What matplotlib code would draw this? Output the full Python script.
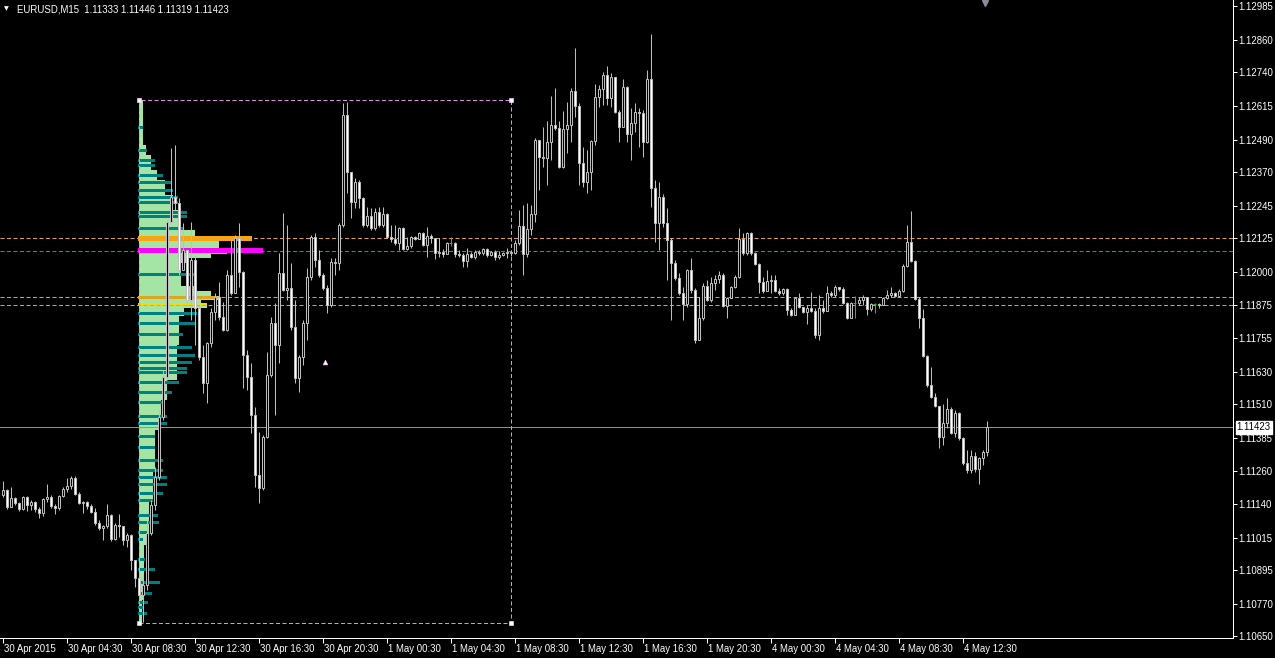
import matplotlib
matplotlib.use("Agg")
import matplotlib.pyplot as plt
import matplotlib.transforms as mtransforms
from matplotlib.patches import Rectangle

# ---------------- data ----------------
symbol = "EURUSD,M15"
header_values = ["1.11333", "1.11446", "1.11319", "1.11423"]
first_open = 1.11173

closes = [
    1.11191, 1.11128, 1.11161, 1.11143, 1.11121, 1.11165, 1.11135, 1.11147, 1.11121, 1.11106,
    1.11158, 1.11165, 1.11132, 1.11124, 1.11169, 1.11195, 1.11206, 1.11236, 1.11176, 1.11143,
    1.11147, 1.11132, 1.11110, 1.11069, 1.11050, 1.11058, 1.11098, 1.11010, 1.11061, 1.11058,
    1.11006, 1.11024, 1.10932, 1.10865, 1.10802, 1.10839, 1.11032, 1.11135, 1.11239, 1.11462,
    1.11610, 1.12184, 1.12277, 1.12255, 1.12006, 1.12081, 1.11895, 1.12044, 1.11866, 1.11684,
    1.11588, 1.11736, 1.11851, 1.11906, 1.11832, 1.11784, 1.11988, 1.11921, 1.12125, 1.11999,
    1.11691, 1.11610, 1.11469, 1.11247, 1.11199, 1.11388, 1.11617, 1.11810, 1.11728, 1.11995,
    1.11932, 1.11940, 1.11795, 1.11606, 1.11684, 1.11810, 1.11980, 1.12129, 1.12044, 1.11988,
    1.11940, 1.11877, 1.12036, 1.12032, 1.12173, 1.12581, 1.12370, 1.12258, 1.12333, 1.12273,
    1.12173, 1.12207, 1.12162, 1.12221, 1.12173, 1.12214, 1.12129, 1.12121, 1.12107, 1.12162,
    1.12084, 1.12095, 1.12129, 1.12121, 1.12143, 1.12099, 1.12132, 1.12125, 1.12069, 1.12073,
    1.12066, 1.12107, 1.12107, 1.12066, 1.12062, 1.12040, 1.12066, 1.12055, 1.12073, 1.12069,
    1.12084, 1.12062, 1.12073, 1.12055, 1.12062, 1.12069, 1.12073, 1.12069, 1.12107, 1.12170,
    1.12066, 1.12158, 1.12214, 1.12488, 1.12425, 1.12422, 1.12481, 1.12544, 1.12533, 1.12388,
    1.12529, 1.12544, 1.12670, 1.12614, 1.12403, 1.12333, 1.12370, 1.12485, 1.12648, 1.12677,
    1.12729, 1.12644, 1.12722, 1.12592, 1.12536, 1.12685, 1.12510, 1.12551, 1.12592, 1.12588,
    1.12481, 1.12714, 1.12310, 1.12181, 1.12277, 1.12181, 1.12118, 1.12032, 1.11977, 1.11921,
    1.11880, 1.12006, 1.11932, 1.11747, 1.11829, 1.11947, 1.11895, 1.11958, 1.11973, 1.11988,
    1.11873, 1.11903, 1.11943, 1.11980, 1.12121, 1.12069, 1.12143, 1.12069, 1.12029, 1.11962,
    1.11929, 1.11966, 1.11969, 1.11929, 1.11921, 1.11936, 1.11858, 1.11840, 1.11903, 1.11869,
    1.11851, 1.11866, 1.11855, 1.11766, 1.11866, 1.11855, 1.11921, 1.11914, 1.11943, 1.11936,
    1.11884, 1.11829, 1.11884, 1.11884, 1.11895, 1.11906, 1.11862, 1.11880, 1.11880, 1.11877,
    1.11903, 1.11914, 1.11921, 1.11910, 1.11929, 1.12021, 1.12110, 1.12040, 1.11899, 1.11829,
    1.11688, 1.11580, 1.11536, 1.11502, 1.11388, 1.11439, 1.11491, 1.11402, 1.11476, 1.11384,
    1.11291, 1.11265, 1.11317, 1.11269, 1.11310, 1.11333, 1.11423,
]
highs = [
    1.11224, 1.11195, 1.11202, 1.11165, 1.11147, 1.11169, 1.11169, 1.11154, 1.11150, 1.11128,
    1.11161, 1.11213, 1.11173, 1.11139, 1.11173, 1.11202, 1.11236, 1.11243, 1.11243, 1.11184,
    1.11150, 1.11150, 1.11139, 1.11124, 1.11080, 1.11061, 1.11139, 1.11102, 1.11069, 1.11102,
    1.11058, 1.11032, 1.11028, 1.10928, 1.10943, 1.10876, 1.11080, 1.11154, 1.11276, 1.11488,
    1.11636, 1.12192, 1.12459, 1.12470, 1.12273, 1.12181, 1.12081, 1.12184, 1.12062, 1.11877,
    1.11728, 1.11740, 1.11866, 1.11921, 1.11962, 1.11888, 1.12006, 1.12118, 1.12136, 1.12181,
    1.12003, 1.11710, 1.11662, 1.11499, 1.11406, 1.11395, 1.11703, 1.11832, 1.11884, 1.12069,
    1.12218, 1.12173, 1.12032, 1.11895, 1.11691, 1.11821, 1.12014, 1.12136, 1.12143, 1.12081,
    1.11995, 1.11951, 1.12051, 1.12051, 1.12181, 1.12625, 1.12629, 1.12370, 1.12347, 1.12340,
    1.12277, 1.12240, 1.12236, 1.12236, 1.12240, 1.12240, 1.12218, 1.12173, 1.12173, 1.12166,
    1.12166, 1.12129, 1.12132, 1.12132, 1.12147, 1.12147, 1.12166, 1.12140, 1.12125, 1.12125,
    1.12084, 1.12110, 1.12129, 1.12110, 1.12081, 1.12069, 1.12088, 1.12073, 1.12081, 1.12081,
    1.12088, 1.12088, 1.12077, 1.12081, 1.12077, 1.12073, 1.12088, 1.12081, 1.12118, 1.12229,
    1.12247, 1.12255, 1.12247, 1.12496, 1.12477, 1.12536, 1.12559, 1.12651, 1.12681, 1.12559,
    1.12596, 1.12629, 1.12681, 1.12829, 1.12625, 1.12462, 1.12451, 1.12488, 1.12696, 1.12692,
    1.12740, 1.12762, 1.12737, 1.12722, 1.12599, 1.12714, 1.12688, 1.12607, 1.12625, 1.12607,
    1.12599, 1.12748, 1.12881, 1.12340, 1.12333, 1.12288, 1.12236, 1.12125, 1.12044, 1.11995,
    1.11943, 1.12010, 1.12051, 1.11940, 1.11906, 1.11958, 1.11969, 1.11980, 1.11988, 1.12003,
    1.11995, 1.11906, 1.11947, 1.11988, 1.12162, 1.12143, 1.12147, 1.12147, 1.12073, 1.12032,
    1.11980, 1.12006, 1.11988, 1.11988, 1.11940, 1.11940, 1.11940, 1.11866, 1.11906, 1.11921,
    1.11869, 1.11877, 1.11925, 1.11866, 1.11914, 1.11895, 1.11947, 1.11929, 1.11951, 1.11940,
    1.11943, 1.11888, 1.11888, 1.11910, 1.11906, 1.11914, 1.11895, 1.11884, 1.11884, 1.11884,
    1.11906, 1.11932, 1.11943, 1.11925, 1.11936, 1.12029, 1.12173, 1.12225, 1.12044, 1.11906,
    1.11862, 1.11691, 1.11647, 1.11551, 1.11499, 1.11510, 1.11532, 1.11499, 1.11488, 1.11480,
    1.11388, 1.11339, 1.11339, 1.11332, 1.11313, 1.11339, 1.11446,
]
lows = [
    1.11165, 1.11121, 1.11128, 1.11135, 1.11113, 1.11117, 1.11113, 1.11117, 1.11110, 1.11087,
    1.11095, 1.11147, 1.11124, 1.11102, 1.11117, 1.11165, 1.11184, 1.11195, 1.11173, 1.11139,
    1.11106, 1.11121, 1.11106, 1.11061, 1.11043, 1.11006, 1.11050, 1.11002, 1.11006, 1.11017,
    1.10987, 1.10980, 1.10895, 1.10832, 1.10791, 1.10702, 1.10820, 1.11024, 1.11117, 1.11228,
    1.11451, 1.11599, 1.12184, 1.12229, 1.11988, 1.12032, 1.11869, 1.11821, 1.11728, 1.11673,
    1.11551, 1.11514, 1.11721, 1.11821, 1.11821, 1.11780, 1.11780, 1.11914, 1.11921, 1.11943,
    1.11569, 1.11562, 1.11402, 1.11202, 1.11143, 1.11191, 1.11384, 1.11610, 1.11469, 1.11662,
    1.11928, 1.11895, 1.11784, 1.11588, 1.11554, 1.11654, 1.11747, 1.11969, 1.12017, 1.11980,
    1.11932, 1.11847, 1.11869, 1.11988, 1.12006, 1.12166, 1.12292, 1.12199, 1.12236, 1.12236,
    1.12166, 1.12166, 1.12155, 1.12155, 1.12166, 1.12166, 1.12125, 1.12110, 1.12099, 1.12081,
    1.12081, 1.12081, 1.12088, 1.12118, 1.12121, 1.12095, 1.12055, 1.12107, 1.12047, 1.12055,
    1.12055, 1.12066, 1.12095, 1.12055, 1.12055, 1.12017, 1.12017, 1.12051, 1.12047, 1.12062,
    1.12062, 1.12055, 1.12058, 1.12044, 1.12047, 1.12058, 1.12051, 1.12058, 1.12066, 1.12099,
    1.11988, 1.12055, 1.12136, 1.12184, 1.12303, 1.12388, 1.12321, 1.12414, 1.12525, 1.12384,
    1.12384, 1.12440, 1.12481, 1.12573, 1.12321, 1.12314, 1.12292, 1.12303, 1.12470, 1.12611,
    1.12618, 1.12618, 1.12611, 1.12588, 1.12481, 1.12536, 1.12481, 1.12414, 1.12518, 1.12462,
    1.12425, 1.12477, 1.12240, 1.12110, 1.12081, 1.12166, 1.11969, 1.11821, 1.11969, 1.11914,
    1.11821, 1.11869, 1.11921, 1.11736, 1.11747, 1.11821, 1.11892, 1.11888, 1.11932, 1.11958,
    1.11869, 1.11829, 1.11903, 1.11940, 1.11977, 1.12062, 1.12062, 1.12062, 1.12025, 1.11921,
    1.11921, 1.11958, 1.11921, 1.11925, 1.11914, 1.11914, 1.11840, 1.11836, 1.11840, 1.11865,
    1.11847, 1.11806, 1.11851, 1.11754, 1.11747, 1.11847, 1.11855, 1.11906, 1.11906, 1.11929,
    1.11880, 1.11825, 1.11829, 1.11829, 1.11877, 1.11877, 1.11840, 1.11855, 1.11847, 1.11866,
    1.11877, 1.11899, 1.11906, 1.11906, 1.11906, 1.11925, 1.12017, 1.12036, 1.11895, 1.11791,
    1.11684, 1.11573, 1.11532, 1.11499, 1.11347, 1.11358, 1.11421, 1.11399, 1.11388, 1.11376,
    1.11284, 1.11254, 1.11254, 1.11258, 1.11213, 1.11284, 1.11319,
]

time_labels = ["30 Apr 2015", "30 Apr 04:30", "30 Apr 08:30", "30 Apr 12:30", "30 Apr 16:30",
               "30 Apr 20:30", "1 May 00:30", "1 May 04:30", "1 May 08:30", "1 May 12:30",
               "1 May 16:30", "1 May 20:30", "4 May 00:30", "4 May 04:30", "4 May 08:30",
               "4 May 12:30"]
bars_per_label = 16
price_labels = ["1.12985", "1.12860", "1.12740", "1.12615", "1.12490", "1.12370", "1.12245",
                "1.12125", "1.12000", "1.11875", "1.11755", "1.11630", "1.11510", "1.11385",
                "1.11260", "1.11140", "1.11015", "1.10895", "1.10770", "1.10650"]

# market profile (volume counts in bar units)
profile_top = [1.12636, 1.12470, 1.12433, 1.12377, 1.12340, 1.12285, 1.12229, 1.12155, 1.12133,
               1.12114, 1.12088, 1.12066, 1.12051, 1.12032, 1.11947, 1.11929, 1.11910, 1.11895,
               1.11880, 1.11866, 1.11836, 1.11728, 1.11599, 1.11525, 1.11414, 1.11265, 1.11154,
               1.10987, 1.10783]
profile_bottom = [1.12470, 1.12433, 1.12377, 1.12340, 1.12285, 1.12229, 1.12155, 1.12133, 1.12114,
                  1.12088, 1.12066, 1.12051, 1.12032, 1.11947, 1.11929, 1.11910, 1.11895, 1.11880,
                  1.11866, 1.11836, 1.11728, 1.11599, 1.11525, 1.11414, 1.11265, 1.11154, 1.10987,
                  1.10783, 1.10698]
profile_counts = [1, 1.75, 3, 4.5, 6.5, 8.5, 10, 14, 17.5, 20, 22, 18, 12.5, 10.5, 13.75, 18, 20,
                  15.5, 17, 11.25, 10, 9.5, 7, 5.5, 4, 3.5, 2.5, 1.25, 0.75]

teal_levels = [1.12536, 1.12451, 1.12414, 1.12392, 1.12355, 1.12329, 1.12303, 1.12277, 1.12258,
               1.12221, 1.12203, 1.12162, 1.11988, 1.11847, 1.11810, 1.11766, 1.11721, 1.11691,
               1.11662, 1.11640, 1.11625, 1.11588, 1.11554, 1.11514, 1.11465, 1.11439, 1.11391,
               1.11350, 1.11302, 1.11265, 1.11236, 1.11213, 1.11180, 1.11154, 1.11098, 1.11069,
               1.11035, 1.11006, 1.10932, 1.10895, 1.10850, 1.10809, 1.10776, 1.10754, 1.10735]
teal_counts = [1, 2, 4, 4, 6, 8.25, 8.5, 9.75, 9.75, 12, 12, 11, 14, 14.5, 14, 11, 13.25, 14,
               13.25, 12, 12, 10, 8.25, 5.75, 7, 7, 4, 4, 6, 6, 7, 7, 6, 3.5, 4.75, 5, 2, 1,
               1.5, 4, 5.25, 3.25, 2.25, 1, 2]

key_levels = [1.12125, 1.12077, 1.11906, 1.11877]
key_counts = [28.25, 31, 19.5, 17]
key_colors = ["#ffa500", "#ff00ff", "#daa520", "#ffd700"]
key_line_colors = ["#e0a050", "#c040c0", "#e0a050", "#e0a050"]
key_thick = [True, True, False, False]

box_start_bar, box_end_bar = 34, 127
box_high, box_low = 1.12636, 1.10698
marker_bar, marker_price = 80.6, 1.11665

# ---------------- figure ----------------
W, H = 1275, 658
fig = plt.figure(figsize=(W / 100, H / 100), dpi=100, facecolor="black")
ax_w, ax_h = 1232.5, 637.5
ax = fig.add_axes([0, (H - ax_h) / H, ax_w / W, ax_h / H], facecolor="black")
px = 0.72  # one pixel in points

n = len(closes)
xs = list(range(n))
opens = [first_open] + closes[:-1]

ax.set_xlim(-0.625, 307.5)
ax.set_ylim(1.106445, 1.130072)
ppx = (1.130072 - 1.106445) / ax_h  # price per pixel

# profile
pl = box_start_bar + 0.15
for t, b, c in zip(profile_top, profile_bottom, profile_counts):
    ax.add_patch(Rectangle((pl, b), c, t - b, facecolor="#a4e4a4", edgecolor="none", zorder=2))
for lv, c in zip(teal_levels, teal_counts):
    ax.add_patch(Rectangle((pl - 0.3, lv - 1.5 * ppx), c + 0.3, 3 * ppx,
                           facecolor="#008080", edgecolor="none", zorder=2.5))
for lv, c, col, thick in zip(key_levels, key_counts, key_colors, key_thick):
    hh = (5 if thick else 3) * ppx
    ax.add_patch(Rectangle((pl - 0.3, lv - hh / 2), c + 0.3, hh, facecolor=col,
                           edgecolor="none", zorder=3))

# key dashed lines
for lv, col in zip(key_levels, key_line_colors):
    ax.axhline(lv, color=col, lw=px, dashes=(4, 2.5), zorder=3.5)

# box
ax.add_patch(Rectangle((box_start_bar, box_low), box_end_bar - box_start_bar, box_high - box_low,
                       fill=False, edgecolor="#e090e0", lw=px, linestyle=(0, (4, 2.5)), zorder=3.6))
ax.plot([box_start_bar, box_end_bar, box_start_bar, box_end_bar],
        [box_high, box_high, box_low, box_low], ls="none", marker="s", ms=3,
        mfc="white", mec="#ffc0ff", mew=0.5, zorder=7)

# current price line
ax.axhline(closes[-1], color="#9090a4", lw=px, zorder=3.4)

# candles
wick_col = "#bebebe"
for i in xs:
    o, c = opens[i], closes[i]
    h = max(highs[i], o, c)
    l = min(lows[i], o, c)
    if abs(c - o) < 1e-7:
        ax.vlines(i, l, h, color="#00e000", lw=px, zorder=5)
        ax.hlines(c, i - 0.3, i + 0.3, color="#00e000", lw=px, zorder=5)
        continue
    ax.vlines(i, l, h, color=wick_col, lw=px, zorder=5)
    face = "white" if c < o else "black"
    ax.add_patch(Rectangle((i - 0.25, min(o, c)), 0.5, abs(c - o), facecolor=face,
                           edgecolor=wick_col, lw=px, zorder=6))

ax.plot([marker_bar], [marker_price], marker="^", ms=3.5, color="white", mec="#ffb0ff",
        mew=0.4, zorder=7)

# axes styling
for s in ["left", "top"]:
    ax.spines[s].set_visible(False)
for s in ["right", "bottom"]:
    ax.spines[s].set_color("white")
    ax.spines[s].set_linewidth(px)

ax.yaxis.tick_right()
ax.set_yticks([float(v) for v in price_labels])
ax.set_yticklabels(price_labels)
ax.set_xticks([k * bars_per_label for k in range(len(time_labels))])
ax.set_xticklabels(time_labels)
ax.tick_params(axis="y", colors="white", direction="out", length=3.2, width=px, pad=1.2,
               labelsize=6.9)
ax.tick_params(axis="x", colors="white", direction="out", length=3.6, width=px, pad=1.0,
               labelsize=6.9)
for lab in ax.get_yticklabels() + ax.get_xticklabels():
    lab.set_family("Liberation Sans")
offset = mtransforms.ScaledTranslation(1.2 / 72, 0, fig.dpi_scale_trans)
for lab in ax.get_xticklabels():
    lab.set_ha("left")
    lab.set_transform(lab.get_transform() + offset)

# current price label box
ax.annotate(header_values[3], xy=(1, closes[-1]), xycoords=("axes fraction", "data"),
            xytext=(3.0, 0), textcoords="offset points", va="center", ha="left",
            fontsize=6.9, family="Liberation Sans", color="black", zorder=10,
            annotation_clip=False,
            bbox=dict(boxstyle="square,pad=0.12", fc="white", ec="white"))

# header
fig.text(4 / W, 1 - 9 / H, "\u25BC", color="white", fontsize=4.5, va="center", ha="left",
         family="DejaVu Sans")
fig.text(17 / W, 1 - 9 / H, symbol + "  " + " ".join(header_values), color="white",
         fontsize=6.9, va="center", ha="left", family="Liberation Sans")

# chart shift marker
ax.plot([985 / ax_w], [1 - 2.5 / ax_h], transform=ax.transAxes, marker="v", ms=5,
        color="#8a8a9a", clip_on=False, zorder=8)

fig.savefig("out.png", dpi=100, facecolor="black")
